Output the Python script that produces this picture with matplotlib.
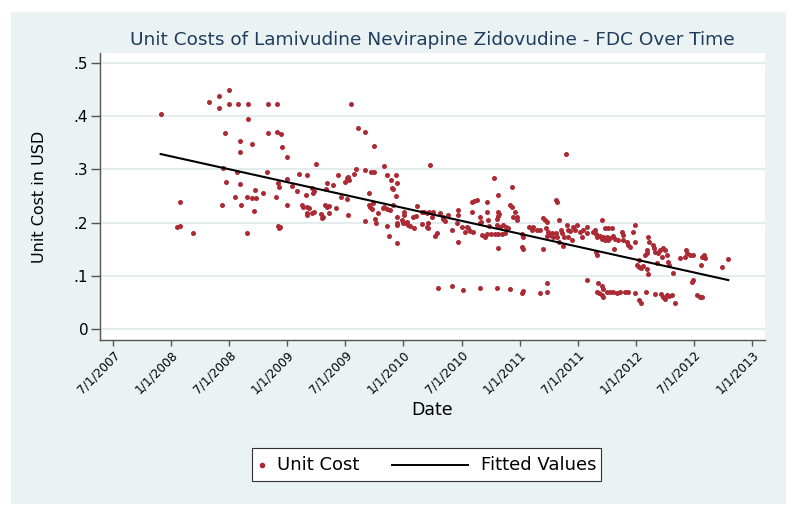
import matplotlib
matplotlib.use("Agg")
import matplotlib.pyplot as plt
import numpy as np
from matplotlib.lines import Line2D
from matplotlib.patches import Rectangle

plt.rcParams["font.family"] = ["DejaVu Sans"]

# unit cost observations, date as fractional year
yr_08 = [2007.91, 2008.08, 2008.05, 2008.08, 2008.185,
         2008.326, 2008.41, 2008.41, 2008.498, 2008.498, 2008.58, 2008.664, 2008.834,
         2008.914, 2008.664, 2008.466, 2008.592, 2008.592, 2008.70, 2008.834, 2008.914,
         2008.945, 2008.954, 2008.994,
         2008.449, 2008.564, 2008.475, 2008.592, 2008.438, 2008.55, 2008.598, 2008.65,
         2008.699, 2008.727, 2008.713, 2008.656, 2008.722, 2008.793, 2008.822, 2008.90,
         2008.922, 2008.928, 2008.997, 2009.0, 2008.917, 2008.93, 2008.937]
cost_08 = [0.404, 0.239, 0.191, 0.194, 0.181,
           0.426, 0.4375, 0.416, 0.449, 0.423, 0.423, 0.423, 0.423,
           0.423, 0.395, 0.369, 0.354, 0.332, 0.347, 0.369, 0.371,
           0.3675, 0.3425, 0.323,
           0.303, 0.295, 0.276, 0.2725, 0.234, 0.248, 0.234, 0.248,
           0.247, 0.246, 0.2225, 0.18, 0.261, 0.256, 0.296, 0.248,
           0.275, 0.2675, 0.282, 0.233, 0.194, 0.189, 0.1925]

yr_09 = [2009.037, 2009.083, 2009.103, 2009.172, 2009.25, 2009.16, 2009.215, 2009.224,
         2009.232, 2009.123, 2009.138, 2009.166, 2009.186, 2009.166, 2009.172, 2009.209,
         2009.232, 2009.287, 2009.301, 2009.31, 2009.327, 2009.344, 2009.361, 2009.344,
         2009.33, 2009.396, 2009.358, 2009.416, 2009.436, 2009.465, 2009.496, 2009.51,
         2009.522, 2009.528, 2009.513, 2009.522, 2009.55, 2009.576, 2009.591, 2009.611,
         2009.668, 2009.668, 2009.705, 2009.72, 2009.749, 2009.749, 2009.668, 2009.70,
         2009.711, 2009.729, 2009.74, 2009.757, 2009.763, 2009.783, 2009.83, 2009.86,
         2009.892, 2009.912, 2009.90, 2009.935, 2009.941, 2009.935, 2009.82, 2009.86,
         2009.883, 2009.83, 2009.912, 2009.86, 2009.878, 2009.941, 2009.941, 2009.946,
         2009.941]
cost_09 = [0.269, 0.259, 0.291, 0.289, 0.31, 0.252, 0.266, 0.255,
           0.259, 0.2325, 0.229, 0.23, 0.228, 0.219, 0.214, 0.2175,
           0.22, 0.216, 0.208, 0.21, 0.234, 0.23, 0.231, 0.274,
           0.2625, 0.27, 0.2175, 0.227, 0.289, 0.249, 0.277, 0.283,
           0.286, 0.28, 0.244, 0.214, 0.424, 0.291, 0.3, 0.3775,
           0.371, 0.299, 0.255, 0.296, 0.296, 0.344, 0.204, 0.2325,
           0.229, 0.226, 0.236, 0.206, 0.20, 0.2175, 0.306, 0.289,
           0.28, 0.264, 0.266, 0.289, 0.274, 0.251, 0.227, 0.226,
           0.224, 0.23, 0.234, 0.194, 0.174, 0.162, 0.211, 0.199,
           0.196]

yr_10a = [2010.006, 2010.006, 2009.987, 2009.998, 2010.018, 2010.041, 2010.055, 2010.027,
          2010.093, 2010.119, 2010.084, 2010.107, 2010.156, 2010.179, 2010.199, 2010.222,
          2010.251, 2010.156, 2010.213, 2010.205, 2010.208, 2010.228, 2010.245, 2010.285,
          2010.274, 2010.314, 2010.337, 2010.342, 2010.357, 2010.386, 2010.414, 2010.294,
          2010.417, 2010.471, 2010.471, 2010.463, 2010.471]
cost_10a = [0.22, 0.214, 0.205, 0.20, 0.199, 0.196, 0.194, 0.202,
            0.189, 0.231, 0.211, 0.2125, 0.22, 0.22, 0.2175, 0.22,
            0.22, 0.197, 0.20, 0.1925, 0.189, 0.309, 0.211, 0.181,
            0.175, 0.2175, 0.206, 0.211, 0.204, 0.214, 0.186, 0.077,
            0.08, 0.224, 0.214, 0.199, 0.164]

yr_10b = [2010.587, 2010.607, 2010.636, 2010.544, 2010.558, 2010.572, 2010.601, 2010.664,
          2010.722, 2010.722, 2010.727, 2010.739, 2010.722, 2010.75, 2010.787, 2010.816,
          2010.845, 2010.874, 2010.776, 2010.816, 2010.81, 2010.825, 2010.816, 2010.808,
          2010.813, 2010.802, 2010.831, 2010.859, 2010.882, 2010.902, 2010.931, 2010.917,
          2010.931, 2010.96, 2010.974, 2010.945, 2010.98, 2010.5, 2010.529, 2010.658,
          2010.673, 2010.702, 2010.587, 2010.658]
cost_10b = [0.239, 0.241, 0.2425, 0.192, 0.189, 0.185, 0.183, 0.202,
            0.239, 0.2205, 0.205, 0.194, 0.1786, 0.178, 0.178, 0.178,
            0.178, 0.18, 0.283, 0.252, 0.2205, 0.216, 0.212, 0.206,
            0.153, 0.1955, 0.191, 0.1955, 0.191, 0.189, 0.2675, 0.233,
            0.23, 0.2205, 0.211, 0.21, 0.205, 0.191, 0.183, 0.1985,
            0.177, 0.1735, 0.2205, 0.21]

yr_low = [2010.515, 2010.658, 2010.802, 2010.917, 2011.026, 2011.017, 2011.175, 2011.232, 2011.238]
cost_low = [0.073, 0.078, 0.078, 0.076, 0.072, 0.068, 0.068, 0.070, 0.087]

yr_11 = [2011.017, 2011.026, 2011.02, 2011.026, 2011.083, 2011.103, 2011.117, 2011.146,
         2011.175, 2011.204, 2011.218, 2011.232, 2011.204, 2011.227, 2011.247, 2011.261,
         2011.232, 2011.275, 2011.29, 2011.313, 2011.324, 2011.313, 2011.318, 2011.339,
         2011.353, 2011.367, 2011.382, 2011.376, 2011.40, 2011.404, 2011.419, 2011.433,
         2011.456, 2011.419, 2011.448, 2011.341, 2011.476, 2011.49, 2011.519, 2011.533,
         2011.542, 2011.577, 2011.582, 2011.577, 2011.628, 2011.648, 2011.657, 2011.668,
         2011.657, 2011.663, 2011.674, 2011.691, 2011.706, 2011.72, 2011.734, 2011.749,
         2011.711, 2011.734, 2011.763, 2011.792, 2011.706, 2011.714, 2011.663, 2011.686,
         2011.706, 2011.72, 2011.749, 2011.777, 2011.806, 2011.834, 2011.863, 2011.906,
         2011.935, 2011.992, 2011.763, 2011.777, 2011.806, 2011.82, 2011.849, 2011.878,
         2011.892, 2011.886, 2011.812, 2011.92, 2011.935, 2011.949, 2011.978, 2011.992,
         2011.992]
cost_11 = [0.178, 0.1735, 0.155, 0.15, 0.191, 0.186, 0.191, 0.187,
           0.186, 0.208, 0.205, 0.202, 0.15, 0.189, 0.183, 0.177,
           0.174, 0.181, 0.1735, 0.18, 0.1735, 0.2425, 0.239, 0.205,
           0.186, 0.18, 0.1735, 0.156, 0.329, 0.1955, 0.186, 0.185,
           0.191, 0.1735, 0.167, 0.164, 0.186, 0.1955, 0.183, 0.1735,
           0.187, 0.191, 0.18, 0.092, 0.183, 0.186, 0.1786, 0.1735,
           0.145, 0.139, 0.087, 0.175, 0.1685, 0.1735, 0.167, 0.1735,
           0.205, 0.189, 0.189, 0.189, 0.081, 0.076, 0.070, 0.067,
           0.064, 0.061, 0.070, 0.070, 0.070, 0.068, 0.070, 0.070,
           0.070, 0.068, 0.167, 0.1705, 0.175, 0.1685, 0.167, 0.183,
           0.177, 0.167, 0.15, 0.164, 0.158, 0.155, 0.183, 0.1955,
           0.164]

yr_12 = [2012.03, 2012.013, 2012.03, 2012.041, 2012.064, 2012.078, 2012.093, 2012.099,
         2012.03, 2012.041, 2012.087, 2012.107, 2012.116, 2012.145, 2012.156, 2012.093,
         2012.107, 2012.165, 2012.193, 2012.208, 2012.222, 2012.237, 2012.251, 2012.265,
         2012.179, 2012.165, 2012.216, 2012.237, 2012.265, 2012.251, 2012.288, 2012.309,
         2012.279, 2012.288, 2012.323, 2012.337, 2012.38, 2012.431, 2012.443, 2012.423,
         2012.466, 2012.488, 2012.48, 2012.494, 2012.523, 2012.552, 2012.566, 2012.558,
         2012.566, 2012.586, 2012.595, 2012.744, 2012.796]
cost_12 = [0.13, 0.12, 0.116, 0.114, 0.118, 0.139, 0.142, 0.1485,
           0.0545, 0.0495, 0.070, 0.1735, 0.164, 0.158, 0.1515, 0.112,
           0.103, 0.145, 0.142, 0.1485, 0.136, 0.1516, 0.1485, 0.139,
           0.1245, 0.066, 0.066, 0.061, 0.064, 0.056, 0.062, 0.064,
           0.1265, 0.12, 0.106, 0.048, 0.133, 0.1485, 0.142, 0.136,
           0.139, 0.092, 0.089, 0.139, 0.064, 0.061, 0.0595, 0.12,
           0.136, 0.139, 0.133, 0.116, 0.1315]

# fitted regression line end points
fit_yr = [2007.91, 2012.796]
fit_cost = [0.329, 0.092]

tick_yr = [2007.5, 2008.0, 2008.5, 2009.0, 2009.5, 2010.0,
           2010.5, 2011.0, 2011.5, 2012.0, 2012.5, 2013.0]
tick_labels = ["7/1/2007", "1/1/2008", "7/1/2008", "1/1/2009", "7/1/2009", "1/1/2010",
               "7/1/2010", "1/1/2011", "7/1/2011", "1/1/2012", "7/1/2012", "1/1/2013"]
y_ticks = [0, 0.1, 0.2, 0.3, 0.4, 0.5]
y_labels = ["0", ".1", ".2", ".3", ".4", ".5"]

years = np.concatenate([yr_08, yr_09, yr_10a, yr_10b, yr_low, yr_11, yr_12])
costs = np.concatenate([cost_08, cost_09, cost_10a, cost_10b, cost_low, cost_11, cost_12])
assert len(years) == len(costs)

W, H = 800, 517
RED = "#AC2A33"


def fx(px):
    return px / W


def fy(py):
    return 1 - py / H


fig = plt.figure(figsize=(W / 100, H / 100), dpi=100)
fig.patches.append(Rectangle((fx(11), fy(504)), fx(775), 492 / H, transform=fig.transFigure,
                             facecolor="#EAF2F3", edgecolor="none", zorder=-5))

ax = fig.add_axes([fx(100), fy(340), fx(665), 287 / H])
ax.set_facecolor("white")
ax.scatter(years, costs, s=13, color=RED, linewidths=0, zorder=3)
ax.plot(fit_yr, fit_cost, color="black", lw=1.5, zorder=4)

ax.set_xlim(2007.388, 2013.112)
ax.set_ylim(-0.0207, 0.519)
ax.set_yticks(y_ticks)
ax.set_yticklabels(y_labels, fontsize=11)
ax.set_xticks(tick_yr)
ax.set_xticklabels(tick_labels, rotation=45, ha="right", rotation_mode="anchor", fontsize=8.7)
ax.grid(axis="y", color="#E4ECEE", lw=1.5, zorder=0)
ax.set_axisbelow(True)
for s in ("top", "right"):
    ax.spines[s].set_visible(False)
for s in ("left", "bottom"):
    ax.spines[s].set_color("#555555")
    ax.spines[s].set_linewidth(1.0)
ax.tick_params(axis="y", length=6.5, width=1, color="#555555", pad=2)
ax.tick_params(axis="x", length=4, width=1, color="#555555", pad=2)

ax.set_title("Unit Costs of Lamivudine Nevirapine Zidovudine - FDC Over Time",
             fontsize=13.3, color="#1F3D5C", pad=6)
ax.set_xlabel("Date", fontsize=12.5, va="center")
ax.xaxis.set_label_coords(0.5, (340 - 410) / 287)
ax.set_ylabel("Unit Cost in USD", fontsize=11.5, va="center")
ax.yaxis.set_label_coords(-60 / 665, 0.5)

# legend box drawn in figure coordinates
fig.patches.append(Rectangle((fx(252), fy(481)), fx(349), 33 / H, transform=fig.transFigure,
                             facecolor="white", edgecolor="#333333", lw=0.8, zorder=5))
fig.add_artist(Line2D([fx(262)], [fy(464.5)], marker="o", ms=3, color=RED, ls="none", zorder=6))
fig.text(fx(277), fy(464.5), "Unit Cost", fontsize=13, va="center", ha="left", zorder=6)
fig.add_artist(Line2D([fx(392), fx(468)], [fy(464.5), fy(464.5)], color="black", lw=1.4, zorder=6))
fig.text(fx(481), fy(464.5), "Fitted Values", fontsize=13, va="center", ha="left", zorder=6)

fig.savefig("out.png", dpi=100)
plt.close(fig)
